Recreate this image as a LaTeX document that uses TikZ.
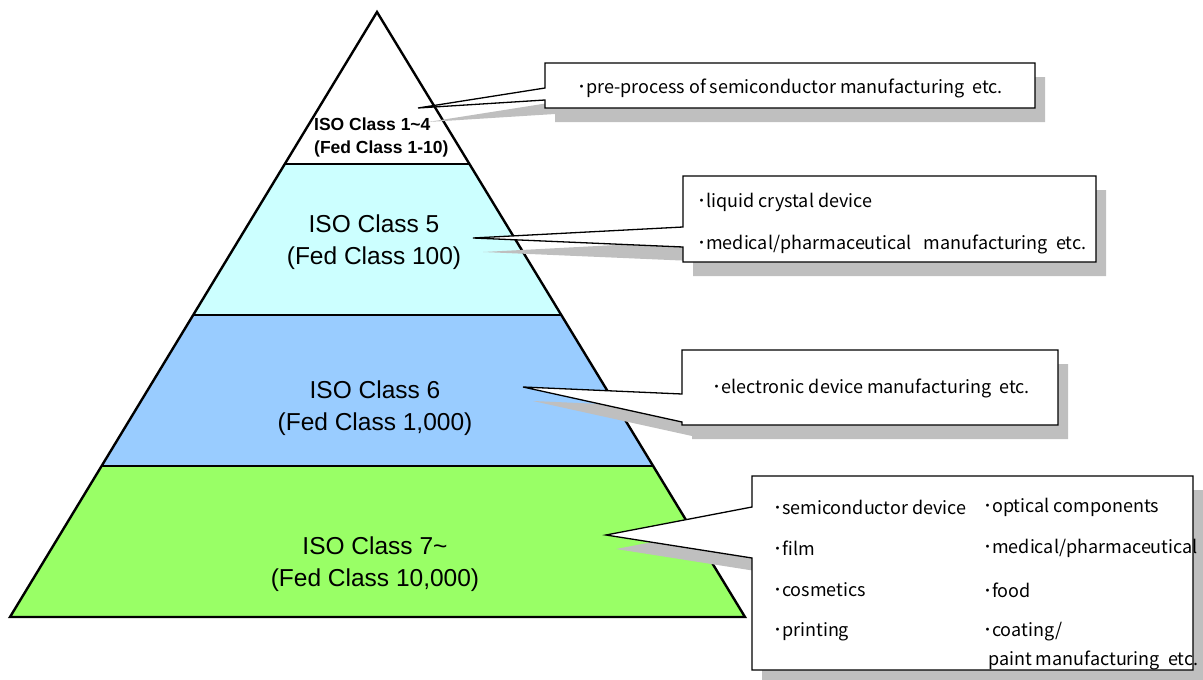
\documentclass[tikz,border=0pt]{standalone}
\usepackage{fontspec}
\setmainfont{Liberation Sans}
\newfontfamily\jpfont{Noto Sans CJK JP}
\usetikzlibrary{calc}
\definecolor{lvlcyan}{HTML}{CCFFFF}
\definecolor{lvlblue}{HTML}{99CCFF}
\definecolor{lvlgreen}{HTML}{99FF66}
\definecolor{shadowgray}{HTML}{BFBFBF}
\begin{document}
\begin{tikzpicture}[x=1pt,y=-1pt,
  pyrline/.style={line width=2.4pt, draw=black, line join=miter},
  calloutbox/.style={fill=white, draw=black, line width=1.3pt, line join=miter},
  calloutshadow/.style={fill=shadowgray, draw=none, transform canvas={shift={(10,14)}}},
  pyrtext/.style={font=\fontsize{24.5}{32}\selectfont, align=center, inner sep=0pt},
  toptext/.style={font=\bfseries\fontsize{17.5}{23}\selectfont, align=left, inner sep=0pt, anchor=west},
  itemtext/.style={font=\jpfont\fontsize{18}{20}\selectfont, inner sep=0pt, anchor=west},
]
\useasboundingbox (0,0) rectangle (1203,680);
% pyramid
\coordinate (apex) at (377,12);
\coordinate (bl) at (10,617);
\coordinate (br) at (745,617);
\coordinate (l1) at ($(apex)!0.2512!(bl)$);
\coordinate (r1) at ($(apex)!0.2512!(br)$);
\coordinate (l2) at ($(apex)!0.5008!(bl)$);
\coordinate (r2) at ($(apex)!0.5008!(br)$);
\coordinate (l3) at ($(apex)!0.7504!(bl)$);
\coordinate (r3) at ($(apex)!0.7504!(br)$);
\fill[white] (apex) -- (r1) -- (l1) -- cycle;
\fill[lvlcyan] (l1) -- (r1) -- (r2) -- (l2) -- cycle;
\fill[lvlblue] (l2) -- (r2) -- (r3) -- (l3) -- cycle;
\fill[lvlgreen] (l3) -- (r3) -- (br) -- (bl) -- cycle;
\draw[pyrline] (apex) -- (br) -- (bl) -- cycle;
\draw[pyrline] (l1) -- (r1);
\draw[pyrline] (l2) -- (r2);
\draw[pyrline] (l3) -- (r3);
% pyramid labels
\node[toptext] (lv1) at (314,137) {ISO Class 1\textasciitilde 4\\(Fed Class 1-10)};
\node[pyrtext] (lv2) at (374,242) {ISO Class 5\\(Fed Class 100)};
\node[pyrtext] (lv3) at (375,408) {ISO Class 6\\(Fed Class 1,000)};
\node[pyrtext] (lv4) at (375,564) {ISO Class 7\textasciitilde\\(Fed Class 10,000)};
% callout 1
\coordinate (a1) at (545,63); \coordinate (b1) at (1035,63);
\coordinate (c1) at (1035,108); \coordinate (d1) at (545,108);
\coordinate (e1) at (545,100); \coordinate (f1) at (545,88);
\coordinate (k1) at (418,108);
\path[calloutshadow] (a1) -- (b1) -- (c1) -- (d1) -- (e1) -- (k1) -- (f1) -- cycle;
\path[calloutbox] (a1) -- (b1) -- (c1) -- (d1) -- (e1) -- (k1) -- (f1) -- cycle;
\node[itemtext, anchor=center] (t1) at (790,88) {･pre-process of semiconductor manufacturing\ \ etc.};
% callout 2
\coordinate (a2) at (683,176); \coordinate (b2) at (1096,176);
\coordinate (c2) at (1096,262); \coordinate (d2) at (683,262);
\coordinate (e2) at (683,247); \coordinate (f2) at (683,227);
\coordinate (k2) at (473,238);
\path[calloutshadow] (a2) -- (b2) -- (c2) -- (d2) -- (e2) -- (k2) -- (f2) -- cycle;
\path[calloutbox] (a2) -- (b2) -- (c2) -- (d2) -- (e2) -- (k2) -- (f2) -- cycle;
\node[itemtext] (t2a) at (697,202) {･liquid crystal device};
\node[itemtext] (t2b) at (697,244) {･medical/pharmaceutical\ \ \ manufacturing\ \ etc.};
% callout 3
\coordinate (a3) at (682,350); \coordinate (b3) at (1058,350);
\coordinate (c3) at (1058,425); \coordinate (d3) at (682,425);
\coordinate (e3) at (682,422); \coordinate (f3) at (682,394);
\coordinate (k3) at (523,387);
\path[calloutshadow] (a3) -- (b3) -- (c3) -- (d3) -- (e3) -- (k3) -- (f3) -- cycle;
\path[calloutbox] (a3) -- (b3) -- (c3) -- (d3) -- (e3) -- (k3) -- (f3) -- cycle;
\node[itemtext, anchor=center] (t3) at (871,388) {･electronic device manufacturing\ \ etc.};
% callout 4
\coordinate (a4) at (752,476); \coordinate (b4) at (1193,476);
\coordinate (c4) at (1193,670); \coordinate (d4) at (752,670);
\coordinate (e4) at (752,558); \coordinate (f4) at (752,507);
\coordinate (k4) at (606,535);
\path[calloutshadow] (a4) -- (b4) -- (c4) -- (d4) -- (e4) -- (k4) -- (f4) -- cycle;
\path[calloutbox] (a4) -- (b4) -- (c4) -- (d4) -- (e4) -- (k4) -- (f4) -- cycle;
\node[itemtext] (t4a) at (773,507) {･semiconductor device};
\node[itemtext] (t4b) at (773,548) {･film};
\node[itemtext] (t4c) at (773,590) {･cosmetics};
\node[itemtext] (t4d) at (773,632) {･printing};
\node[itemtext] (t4e) at (983,507) {･optical components};
\node[itemtext] (t4f) at (983,548) {･medical/pharmaceutical};
\node[itemtext] (t4g) at (983,590) {･food};
\node[itemtext] (t4h) at (983,632) {･coating/};
\node[itemtext] (t4i) at (988,660) {paint manufacturing\ \ etc.};
\end{tikzpicture}
\end{document}
